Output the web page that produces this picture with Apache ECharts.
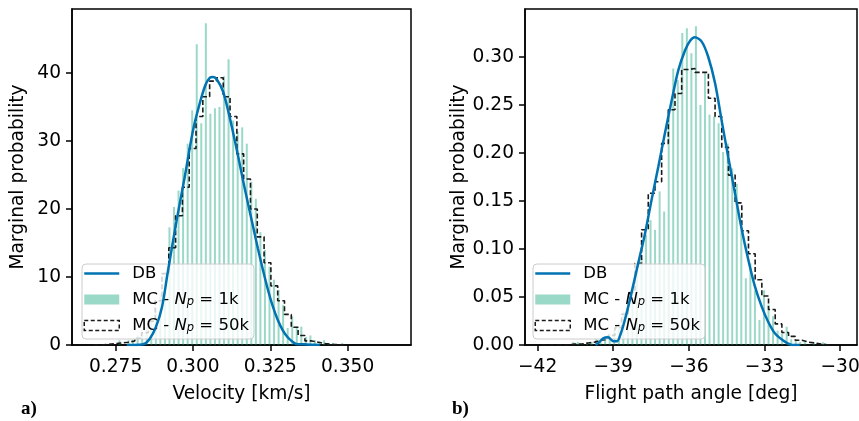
<!DOCTYPE html>
<html><head><meta charset="utf-8">
<script src="https://cdn.jsdelivr.net/npm/echarts@6/dist/echarts.min.js"></script>
<style>html,body{margin:0;padding:0;background:#fff}#c{width:859px;height:421px}</style>
</head><body><div id="c"></div>
<script>
// ---------- Panel a) Velocity ----------
const velTicks = [0.275, 0.300, 0.325, 0.350];
const velProbTicks = [0, 10, 20, 30, 40];
// DB curve
const velDbX = [0.2786,0.2810,0.2839,0.2860,0.2880,0.2900,0.2919,0.2946,0.2973,0.3000,0.3020,0.3040,0.3055,0.3065,0.3078,0.3097,0.3113,0.3129,0.3145,0.3161,0.3178,0.3194,0.3210,0.3226,0.3242,0.3258,0.3274,0.3290,0.3307,0.3323,0.3334,0.3360,0.3380,0.3410];
const velDbY = [0,0,0.1,0.9,2.6,5.6,10.8,18,24.6,31.5,35.2,38.2,39.3,39.4,39.0,37.3,34.6,31.4,28,24.4,20.8,17.5,14.2,11.1,8.2,5.7,3.7,2.2,1.1,0.45,0.15,0.1,0.05,0];
// MC 1k histogram (bin centres, density)
const velMc1kX = [0.27624,0.27771,0.27918,0.28065,0.28212,0.28359,0.28506,0.28653,0.28800,0.28947,0.29094,0.29241,0.29388,0.29535,0.29682,0.29829,0.29976,0.30123,0.30270,0.30417,0.30564,0.30711,0.30858,0.31005,0.31152,0.31299,0.31446,0.31593,0.31740,0.31887,0.32034,0.32181,0.32328,0.32475,0.32622,0.32769,0.32916,0.33063,0.33210,0.33357,0.33504,0.33651,0.33798,0.33945,0.34092,0.34239,0.34386,0.34533,0.34680,0.34827];
const velMc1kY = [0.7,0,0.7,0.7,1.4,2.0,2.7,4.1,5.4,7.5,10.2,17.3,20.3,22.7,26,29.6,34.5,44.2,32.6,47.3,34,34.8,35,39.5,42,33,31.4,32,29.6,24,21.5,16.6,14,11.5,9.6,8.1,5.9,2.5,4.2,2.7,2.7,1.2,1.4,0.7,0.5,0.7,0.3,0.3,0,0.3];
// MC 50k histogram (bin edges, density)
const velMc50kEdges = [0.2680,0.2702,0.2724,0.2746,0.2768,0.2790,0.2812,0.2834,0.2856,0.2878,0.2900,0.2922,0.2944,0.2966,0.2988,0.3010,0.3032,0.3054,0.3076,0.3098,0.3120,0.3142,0.3164,0.3186,0.3208,0.3230,0.3252,0.3274,0.3296,0.3318,0.3340,0.3362,0.3384,0.3406,0.3428,0.3450,0.3472,0.3494];
const velMc50kY = [0,0.1,0.2,0.3,0.4,0.6,1.0,1.8,3.5,6.5,10.5,14.3,19,23.2,28.9,33.6,36.5,38.8,39.3,36.5,33.6,28.1,24.4,20,15.9,12.1,8.7,6.5,4.5,2.6,1.4,0.6,0.4,0.2,0.1,0.05,0];

// ---------- Panel b) Flight path angle ----------
const fpaTicks = [-42, -39, -36, -33, -30];
const fpaProbTicks = [0, 0.05, 0.10, 0.15, 0.20, 0.25, 0.30];
const fpaDbX = [-39.70,-39.55,-39.40,-39.20,-39.00,-38.85,-38.70,-38.55,-38.34,-38.01,-37.74,-37.48,-37.21,-36.95,-36.68,-36.42,-36.15,-35.95,-35.76,-35.49,-35.23,-34.96,-34.70,-34.44,-34.17,-33.90,-33.64,-33.38,-33.11,-32.85,-32.58,-32.19,-31.90,-31.60];
const fpaDbY = [0.000,0.003,0.007,0.008,0.004,0.004,0.012,0.025,0.047,0.085,0.116,0.151,0.186,0.2205,0.255,0.286,0.307,0.317,0.3205,0.316,0.300,0.2726,0.234,0.196,0.158,0.12,0.0885,0.061,0.040,0.024,0.012,0.0035,0.000,0.000];
const fpaMc1kX = [-40.58,-40.40,-40.22,-40.04,-39.86,-39.68,-39.50,-39.32,-39.14,-38.96,-38.78,-38.60,-38.42,-38.24,-38.06,-37.88,-37.70,-37.52,-37.34,-37.16,-36.98,-36.80,-36.62,-36.44,-36.26,-36.08,-35.90,-35.72,-35.54,-35.36,-35.18,-35.00,-34.82,-34.64,-34.46,-34.28,-34.10,-33.92,-33.74,-33.56,-33.38,-33.20,-33.02,-32.84,-32.66,-32.48,-32.30,-32.12,-31.94,-31.76,-31.58,-31.40,-31.22,-31.04,-30.86,-30.68];
const fpaMc1kY = [0.003,0.003,0,0.003,0.003,0.006,0.003,0.009,0.012,0.015,0.024,0.035,0.04,0.06,0.075,0.09,0.115,0.13,0.12,0.16,0.139,0.24,0.288,0.276,0.325,0.33,0.304,0.332,0.25,0.283,0.24,0.238,0.231,0.201,0.21,0.184,0.168,0.12,0.0695,0.085,0.057,0.026,0.057,0.042,0.03,0.015,0.012,0.019,0.006,0.006,0.003,0.003,0,0.003,0,0.003];
const fpaMc50kEdges = [-41.850,-41.585,-41.320,-41.055,-40.790,-40.525,-40.260,-39.995,-39.730,-39.465,-39.200,-38.935,-38.670,-38.405,-38.140,-37.875,-37.610,-37.345,-37.080,-36.815,-36.550,-36.285,-36.020,-35.755,-35.490,-35.225,-34.960,-34.695,-34.430,-34.165,-33.900,-33.635,-33.370,-33.105,-32.840,-32.575,-32.310,-32.045,-31.780,-31.515,-31.250,-30.985,-30.720,-30.455];
const fpaMc50kY = [0,0,0,0,0.001,0.001,0.002,0.003,0.005,0.006,0.010,0.018,0.032,0.055,0.085,0.12,0.158,0.17,0.21,0.245,0.262,0.287,0.288,0.284,0.284,0.257,0.238,0.206,0.177,0.148,0.119,0.095,0.068,0.051,0.037,0.022,0.013,0.009,0.005,0.003,0.002,0.001,0];

const FONT = 'DejaVu Sans';
const FS = 18.6;
const LFS = 16.5;
const BLUE = '#0173b2';
const MINT = 'rgba(2,158,115,0.4)';
const DASH = '#1a1a1a';

function zip(xs, ys){ return xs.map((x,i)=>[x, ys[i]]); }
function steps(edges, hs){ const d = hs.map((h,i)=>[edges[i], h]); d.push([edges[edges.length-1], 0]); return d; }
const minus = v => (v < 0 ? '\u2212' + Math.abs(v) : String(v));

function xAx(gi, min, max, name, ticks, fmt){
  return {type:'value', gridIndex:gi, min:min, max:max, name:name, nameLocation:'middle', nameGap:40,
    nameTextStyle:{fontFamily:FONT, fontSize:FS, color:'#000'},
    axisLine:{show:true, onZero:false, lineStyle:{color:'#000', width:1.5}},
    axisTick:{show:true, length:6, lineStyle:{color:'#000', width:1.5}, customValues:ticks},
    axisLabel:{show:true, margin:13, color:'#000', fontFamily:FONT, fontSize:FS, customValues:ticks, formatter:fmt},
    splitLine:{show:false}};
}
function yAx(gi, min, max, name, ticks, fmt, gap){
  return {type:'value', gridIndex:gi, min:min, max:max, name:name, nameLocation:'middle', nameGap:gap,
    nameTextStyle:{fontFamily:FONT, fontSize:FS, color:'#000'},
    axisLine:{show:true, onZero:false, lineStyle:{color:'#000', width:1.5}},
    axisTick:{show:true, length:6, lineStyle:{color:'#000', width:1.5}, customValues:ticks},
    axisLabel:{show:true, margin:11, color:'#000', fontFamily:FONT, fontSize:FS, customValues:ticks, formatter:fmt},
    splitLine:{show:false}};
}

const names = {db:'DB', mc1:'MC - Np = 1k', mc50:'MC - Np = 50k'};
const legendText = {};
legendText[names.db] = '{g|}{t|DB}';
legendText[names.mc1] = '{g|}{t|MC - }{i|N}{s|p}{t| = 1k}';
legendText[names.mc50] = '{g|}{t|MC - }{i|N}{s|p}{t| = 50k}';

function legendAt(left){
  return {left:left, top:264, orient:'vertical', selectedMode:false,
    backgroundColor:'rgba(255,255,255,0.8)', borderColor:'#cccccc', borderWidth:1, borderRadius:4,
    padding:[1,5,5,1], itemGap:9, itemWidth:35, itemHeight:10,
    formatter: n => legendText[n],
    textStyle:{color:'#000', fontFamily:FONT, fontSize:LFS,
      rich:{g:{width:8}, t:{fontFamily:FONT, fontSize:LFS, lineHeight:17},
            i:{fontFamily:FONT, fontSize:LFS, fontStyle:'italic', lineHeight:17},
            s:{fontFamily:FONT, fontSize:11.5, fontStyle:'italic', lineHeight:12, verticalAlign:'bottom'}}},
    data:[
      {name:names.db, itemStyle:{color:'rgba(0,0,0,0)', borderColor:'rgba(0,0,0,0)', borderWidth:0}, lineStyle:{color:BLUE, width:2.5}},
      {name:names.mc1, icon:'rect', itemStyle:{color:MINT, borderWidth:0}},
      {name:names.mc50, icon:'rect', itemStyle:{color:'rgba(0,0,0,0)', borderColor:DASH, borderWidth:1.5, borderType:[4,2.5]}}
    ]};
}

const option = {
  animation:false,
  textStyle:{fontFamily:FONT},
  grid:[
    {left:72, top:9, width:339, height:336, show:true, borderColor:'#000', borderWidth:1.5, backgroundColor:'rgba(0,0,0,0)', outerBoundsMode:'none', containLabel:false},
    {left:525, top:9, width:332, height:336, show:true, borderColor:'#000', borderWidth:1.5, backgroundColor:'rgba(0,0,0,0)', outerBoundsMode:'none', containLabel:false}
  ],
  xAxis:[
    xAx(0, 0.2609, 0.3705, 'Velocity [km/s]', velTicks, v => v.toFixed(3)),
    xAx(1, -42.5, -29.33, 'Flight path angle [deg]', fpaTicks, v => minus(Math.round(v)))
  ],
  yAxis:[
    yAx(0, 0, 49.4, 'Marginal probability', velProbTicks, v => String(Math.round(v)), 44),
    yAx(1, 0, 0.35, 'Marginal probability', fpaProbTicks, v => v.toFixed(2), 53)
  ],
  legend:[legendAt(82), legendAt(533)],
  graphic:[
    {type:'text', left:21, top:400, style:{text:'a)', font:'bold 19px "Liberation Serif"', fill:'#000'}},
    {type:'text', left:452, top:400, style:{text:'b)', font:'bold 19px "Liberation Serif"', fill:'#000'}}
  ],
  series:[
    {type:'bar', name:names.mc1, xAxisIndex:0, yAxisIndex:0, data:zip(velMc1kX, velMc1kY), barWidth:2, itemStyle:{color:MINT}, z:2, silent:true},
    {type:'line', name:names.mc50, xAxisIndex:0, yAxisIndex:0, data:steps(velMc50kEdges, velMc50kY), step:'end', symbol:'none', lineStyle:{color:DASH, width:1.6, type:[5,2.5]}, z:3, silent:true},
    {type:'line', name:names.db, xAxisIndex:0, yAxisIndex:0, data:zip(velDbX, velDbY), smooth:0.3, symbol:'none', lineStyle:{color:BLUE, width:2.5}, itemStyle:{color:BLUE}, z:4, silent:true},
    {type:'bar', name:names.mc1, xAxisIndex:1, yAxisIndex:1, data:zip(fpaMc1kX, fpaMc1kY), barWidth:2, itemStyle:{color:MINT}, z:2, silent:true},
    {type:'line', name:names.mc50, xAxisIndex:1, yAxisIndex:1, data:steps(fpaMc50kEdges, fpaMc50kY), step:'end', symbol:'none', lineStyle:{color:DASH, width:1.6, type:[5,2.5]}, z:3, silent:true},
    {type:'line', name:names.db, xAxisIndex:1, yAxisIndex:1, data:zip(fpaDbX, fpaDbY), smooth:0.3, symbol:'none', lineStyle:{color:BLUE, width:2.5}, itemStyle:{color:BLUE}, z:4, silent:true}
  ]
};
const chart = echarts.init(document.getElementById('c'), null, {renderer:'canvas'});
chart.setOption(option);
</script>
</body></html>
